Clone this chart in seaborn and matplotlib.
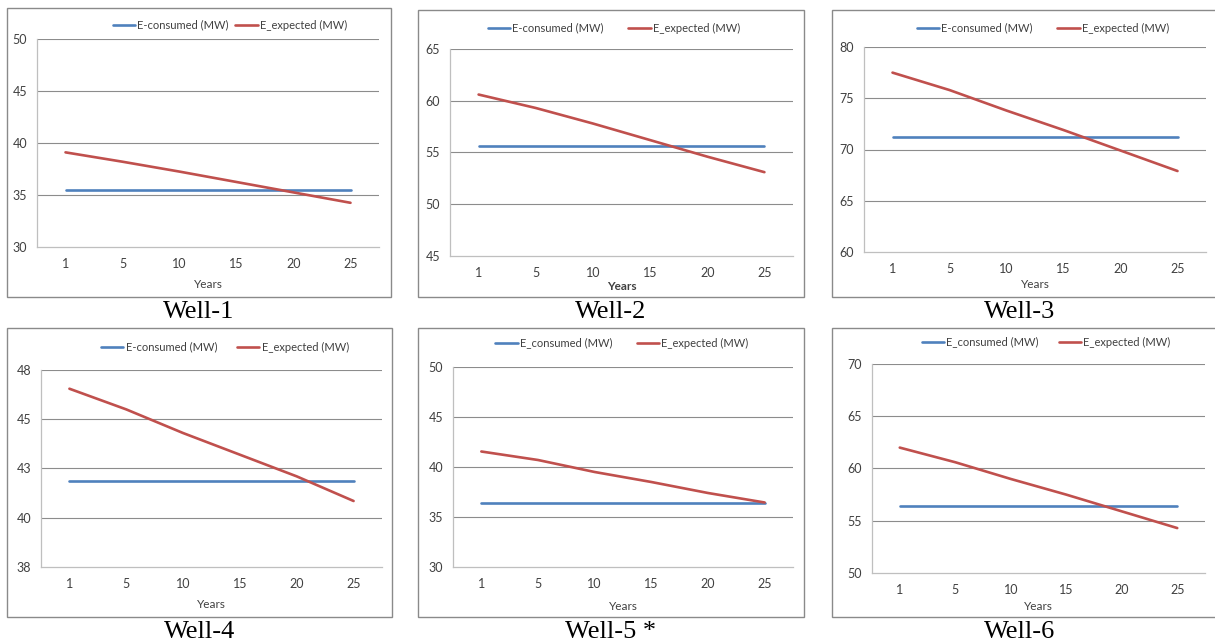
import matplotlib
matplotlib.use("Agg")
import matplotlib.pyplot as plt
import seaborn as sns
import numpy as np
import pandas as pd
from matplotlib.patches import Rectangle
from matplotlib.ticker import FixedLocator, FixedFormatter, NullFormatter

# ---------------- data ----------------
years = ["1", "5", "10", "15", "20", "25"]

well1_consumed = [35.45, 35.45, 35.45, 35.45, 35.45, 35.45]
well1_expected = [39.1, 38.2, 37.25, 36.25, 35.25, 34.25]

well2_consumed = [55.65, 55.65, 55.65, 55.65, 55.65, 55.65]
well2_expected = [60.6, 59.3, 57.8, 56.2, 54.6, 53.1]

well3_consumed = [71.2, 71.2, 71.2, 71.2, 71.2, 71.2]
well3_expected = [77.5, 75.8, 73.8, 71.9, 69.9, 67.9]

well4_consumed = [41.85, 41.85, 41.85, 41.85, 41.85, 41.85]
well4_expected = [46.55, 45.5, 44.3, 43.2, 42.1, 40.85]

well5_consumed = [36.45, 36.45, 36.45, 36.45, 36.45, 36.45]
well5_expected = [41.55, 40.7, 39.5, 38.5, 37.4, 36.45]

well6_consumed = [56.4, 56.4, 56.4, 56.4, 56.4, 56.4]
well6_expected = [62.0, 60.6, 59.0, 57.5, 55.9, 54.3]

captions = ["Well-1", "Well-2", "Well-3", "Well-4", "Well-5 *", "Well-6"]
consumed_labels = ["E-consumed (MW)", "E-consumed (MW)", "E-consumed (MW)",
                   "E-consumed (MW)", "E_consumed (MW)", "E_consumed (MW)"]
expected_label = "E_expected (MW)"

y_ticks = [
    [30, 35, 40, 45, 50],
    [45, 50, 55, 60, 65],
    [60, 65, 70, 75, 80],
    [37.5, 40, 42.5, 45, 47.5],
    [30, 35, 40, 45, 50],
    [50, 55, 60, 65, 70],
]
y_tick_labels = [
    ["30", "35", "40", "45", "50"],
    ["45", "50", "55", "60", "65"],
    ["60", "65", "70", "75", "80"],
    ["38", "40", "43", "45", "48"],
    ["30", "35", "40", "45", "50"],
    ["50", "55", "60", "65", "70"],
]

consumed_all = [well1_consumed, well2_consumed, well3_consumed,
                well4_consumed, well5_consumed, well6_consumed]
expected_all = [well1_expected, well2_expected, well3_expected,
                well4_expected, well5_expected, well6_expected]

# ---------------- layout (pixel boxes) ----------------
W, H = 1215, 643
sns.set_theme(style="white")
plt.rcParams["font.family"] = ["Lato", "DejaVu Sans"]

fig = plt.figure(figsize=(W / 100, H / 100), dpi=100)
fig.patch.set_facecolor("white")

# plot areas: left, top, right, bottom (px)
plot_areas = [
    (37, 39, 379, 247),
    (450, 49, 793, 256),
    (864, 47, 1206, 252),
    (41, 370, 382, 567),
    (453, 367, 793, 567),
    (872, 364, 1205, 573),
]
# outer frames
frames = [
    (7, 8, 391, 297),
    (418, 10, 804, 297),
    (832, 10, 1216, 297),
    (7, 328, 392, 617),
    (418, 328, 804, 617),
    (832, 328, 1216, 617),
]
legend_pos = [(230, 25, 0.6), (614, 28, 2.2), (1043, 28, 2.2),
              (225, 347, 1.8), (622, 343, 2.2), (1046, 342, 1.8)]
xlabel_bold = [False, True, False, False, False, False]
xlabel_y = [285, 286, 285, 605, 607, 607]

BLUE = "#4F81BD"
RED = "#C0504D"
GRID = "#8C8C8C"
AXIS = "#BFBFBF"
TXT = "#404040"


def rect(l, t, r, b):
    return [l / W, 1 - b / H, (r - l) / W, (b - t) / H]


for i in range(6):
    fl, ft, fr, fb = frames[i]
    fig.add_artist(Rectangle((fl / W, 1 - fb / H), (fr - fl) / W, (fb - ft) / H,
                             transform=fig.transFigure, fill=False,
                             edgecolor="#8A8A8A", linewidth=1.0))

    ax = fig.add_axes(rect(*plot_areas[i]))
    x = np.arange(len(years))
    df = pd.DataFrame({"x": np.concatenate([x, x]),
                       "value": consumed_all[i] + expected_all[i],
                       "series": [consumed_labels[i]] * len(years) + [expected_label] * len(years)})
    sns.lineplot(data=df, x="x", y="value", hue="series",
                 palette={consumed_labels[i]: BLUE, expected_label: RED},
                 linewidth=1.9, ax=ax, legend=False)

    ax.set_xlim(-0.5, len(years) - 0.5)
    yt = y_ticks[i]
    ax.set_ylim(yt[0], yt[-1])
    ax.yaxis.set_major_locator(FixedLocator(yt))
    ax.yaxis.set_major_formatter(FixedFormatter(y_tick_labels[i]))
    ax.xaxis.set_major_locator(FixedLocator(np.arange(-0.5, len(years), 1.0)))
    ax.xaxis.set_major_formatter(NullFormatter())
    ax.xaxis.set_minor_locator(FixedLocator(x))
    ax.xaxis.set_minor_formatter(FixedFormatter(years))
    ax.tick_params(axis="x", which="major", length=4, width=0.8, color=AXIS, direction="out")
    ax.tick_params(axis="x", which="minor", length=0, pad=8, labelsize=9, labelcolor=TXT)
    ax.tick_params(axis="y", which="major", length=4, width=0.8, color=AXIS,
                   direction="out", pad=3, labelsize=9, labelcolor=TXT)
    for yv in yt[1:]:
        ax.axhline(yv, color=GRID, linewidth=0.8, zorder=0)
    for s in ["top", "right"]:
        ax.spines[s].set_visible(False)
    ax.spines["left"].set_color(AXIS)
    ax.spines["bottom"].set_color(AXIS)
    ax.spines["left"].set_linewidth(0.9)
    ax.spines["bottom"].set_linewidth(0.9)
    ax.set_xlabel("")
    ax.set_ylabel("")
    ax.set_facecolor("none")

    cx = (plot_areas[i][0] + plot_areas[i][2]) / 2
    fig.text(cx / W, 1 - xlabel_y[i] / H, "Years", ha="center", va="center",
             fontsize=8.5, color=TXT, fontweight="bold" if xlabel_bold[i] else "normal")

    lx, ly, cs = legend_pos[i]
    handles = [plt.Line2D([], [], color=BLUE, linewidth=1.9),
               plt.Line2D([], [], color=RED, linewidth=1.9)]
    fig.legend(handles, [consumed_labels[i], expected_label], loc="center",
               bbox_to_anchor=(lx / W, 1 - ly / H), ncol=2, frameon=False,
               fontsize=8, handlelength=2.0, handletextpad=0.2, columnspacing=cs,
               labelcolor=TXT, borderaxespad=0, borderpad=0)

    capx = (fl + fr) / 2 if i != 2 and i != 5 else (fl + 1207) / 2
    capy = fb + 15
    fig.text(capx / W, 1 - capy / H, captions[i], ha="center", va="center",
             fontsize=19, family=["Liberation Serif", "DejaVu Serif"], color="black")

fig.savefig("out.png", dpi=100, facecolor="white")
